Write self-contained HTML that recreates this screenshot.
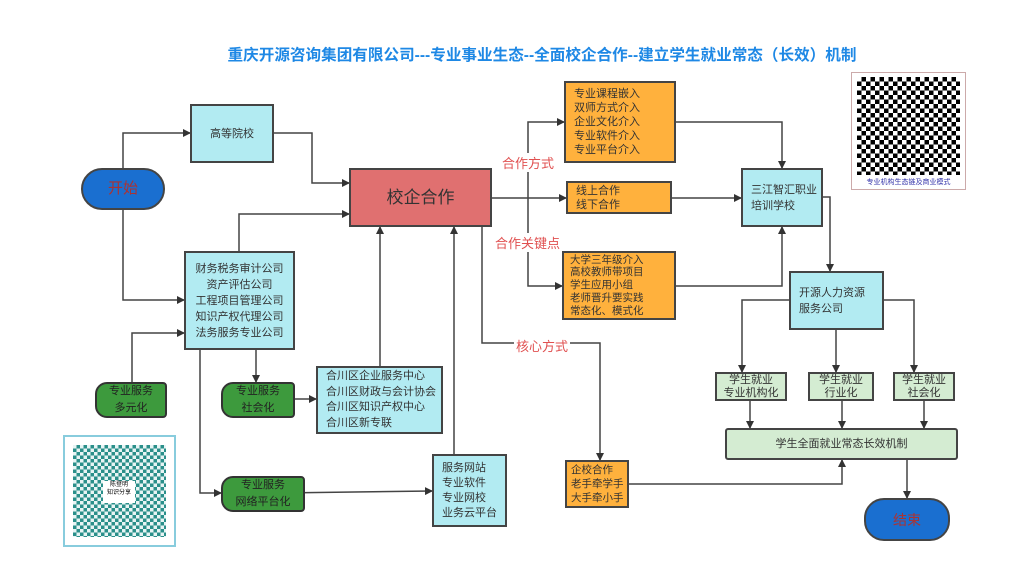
<!DOCTYPE html>
<html><head><meta charset="utf-8"><style>
body{margin:0;width:1024px;height:574px;background:#fff;position:relative;overflow:hidden;font-family:"Liberation Sans","Noto Sans CJK SC",sans-serif;}
.b{position:absolute;box-sizing:border-box;border:2px solid #444;font-size:11px;color:#333;line-height:16px;}
.cy{background:#b2ebf2;}
.or{background:#ffb13d;}
.gr{background:#d4ecd2;}
.c{display:flex;align-items:center;justify-content:center;text-align:center;}
.l{display:flex;align-items:center;padding-left:8px;}
.lab{position:absolute;color:#e05050;font-size:13px;background:#fff;}
.g{position:absolute;box-sizing:border-box;background:#3d9a3d;border:2px solid #333;border-radius:12px 4px 4px 12px;color:#222;font-size:11px;line-height:17px;text-align:center;display:flex;align-items:center;justify-content:center;}
</style></head><body>
<div style="position:absolute;left:0;width:1084px;top:43px;text-align:center;font-size:15.6px;font-weight:bold;color:#1e88e5;white-space:nowrap;">重庆开源咨询集团有限公司---专业事业生态--全面校企合作--建立学生就业常态（长效）机制</div>
<svg width="1024" height="574" style="position:absolute;left:0;top:0">
<defs><marker id="a" markerWidth="8" markerHeight="8" refX="7" refY="4" orient="auto" markerUnits="userSpaceOnUse"><path d="M0,0L8,4L0,8z" fill="#333"/></marker></defs>
<g stroke="#444" stroke-width="1.5" fill="none" marker-end="url(#a)">
<path d="M123,168V133H190"/><path d="M123,210V300H184"/>
<path d="M274,133H312V183H349"/><path d="M239,251V214H349"/>
<path d="M380,366V227"/><path d="M454,454V227"/>
<path d="M132,382V333H184"/><path d="M200,350V493H221"/><path d="M256,350V382"/>
<path d="M270,399H316"/><path d="M280,493L432,491"/>
<path d="M492,198H566"/><path d="M528,198V122H564"/><path d="M528,198V286H562"/>
<path d="M482,227V343H600V460"/>
<path d="M676,122H782V168"/><path d="M672,198H741"/><path d="M676,286H782V227"/>
<path d="M823,197H830V271"/>
<path d="M789,300H742V372"/><path d="M836,330V372"/><path d="M884,300H914V372"/>
<path d="M750,401V428"/><path d="M842,401V428"/><path d="M924,401V428"/>
<path d="M629,484H842V460"/><path d="M907,460V498"/>
</g></svg>
<div class="b c" style="left:81px;top:168px;width:84px;height:42px;background:#1a6fd0;border-radius:21px;color:#a33;font-size:15px;">开始</div>
<div class="b c cy" style="left:190px;top:104px;width:84px;height:59px;">高等院校</div>
<div class="b c" style="left:349px;top:168px;width:143px;height:59px;background:#e07070;font-size:17px;">校企合作</div>
<div class="b c cy" style="left:184px;top:251px;width:111px;height:99px;">财务税务审计公司<br>资产评估公司<br>工程项目管理公司<br>知识产权代理公司<br>法务服务专业公司</div>
<div class="b l or" style="left:564px;top:81px;width:112px;height:82px;line-height:14px;">专业课程嵌入<br>双师方式介入<br>企业文化介入<br>专业软件介入<br>专业平台介入</div>
<div class="b l or" style="left:566px;top:181px;width:106px;height:33px;line-height:14px;">线上合作<br>线下合作</div>
<div class="b l or" style="left:562px;top:251px;width:114px;height:69px;line-height:12.8px;padding-left:6px;font-size:10.5px;">大学三年级介入<br>高校教师带项目<br>学生应用小组<br>老师晋升要实践<br>常态化、模式化</div>
<div class="b l cy" style="left:741px;top:168px;width:82px;height:59px;">三江智汇职业<br>培训学校</div>
<div class="b l cy" style="left:789px;top:271px;width:95px;height:59px;">开源人力资源<br>服务公司</div>
<div class="b c gr" style="left:715px;top:372px;width:72px;height:29px;line-height:13px;">学生就业<br>专业机构化</div>
<div class="b c gr" style="left:808px;top:372px;width:66px;height:29px;line-height:13px;">学生就业<br>行业化</div>
<div class="b c gr" style="left:893px;top:372px;width:62px;height:29px;line-height:13px;">学生就业<br>社会化</div>
<div class="b c gr" style="left:725px;top:428px;width:233px;height:32px;border-radius:3px;">学生全面就业常态长效机制</div>
<div class="b c" style="left:864px;top:498px;width:86px;height:43px;background:#1a6fd0;border-radius:20px;color:#a33;font-size:14px;">结束</div>
<div class="b l or" style="left:565px;top:460px;width:64px;height:48px;line-height:14px;padding-left:4px;font-size:10.5px;white-space:nowrap;">企校合作<br>老手牵学手<br>大手牵小手</div>
<div class="b l cy" style="left:432px;top:454px;width:75px;height:73px;line-height:15px;">服务网站<br>专业软件<br>专业网校<br>业务云平台</div>
<div class="b l cy" style="left:316px;top:366px;width:127px;height:68px;line-height:15.5px;">合川区企业服务中心<br>合川区财政与会计协会<br>合川区知识产权中心<br>合川区新专联</div>
<div class="g" style="left:95px;top:382px;width:72px;height:36px;">专业服务<br>多元化</div>
<div class="g" style="left:221px;top:382px;width:74px;height:36px;">专业服务<br>社会化</div>
<div class="g" style="left:221px;top:476px;width:84px;height:36px;">专业服务<br>网络平台化</div>
<div class="lab" style="left:502px;top:153px;">合作方式</div>
<div class="lab" style="left:495px;top:233px;">合作关键点</div>
<div class="lab" style="left:514px;top:336px;padding:0 2px;">核心方式</div>
<div style="position:absolute;left:851px;top:72px;width:115px;height:118px;border:1px solid #caa;box-sizing:border-box;background:#fff;">
<div style="position:absolute;left:5px;top:4px;width:103px;height:98px;background:repeating-conic-gradient(#000 0 25%,#fff 0 50%) 0 0/9px 9px;"></div>
<div style="position:absolute;left:0;width:100%;top:104px;font-size:7px;color:#33a;text-align:center;">专业机构生态链及商业模式</div></div>
<div style="position:absolute;left:63px;top:435px;width:113px;height:112px;border:2px solid #8cd;box-sizing:border-box;background:#fff;">
<div style="position:absolute;left:8px;top:8px;width:93px;height:92px;background:repeating-conic-gradient(#2a8f8a 0 25%,#e8f4f4 0 50%) 0 0/7px 7px;"></div>
<div style="position:absolute;left:38px;top:44px;width:32px;height:22px;background:#fff;font-size:6px;line-height:8px;text-align:center;">陈登明<br>知识分享</div></div>
</body></html>
